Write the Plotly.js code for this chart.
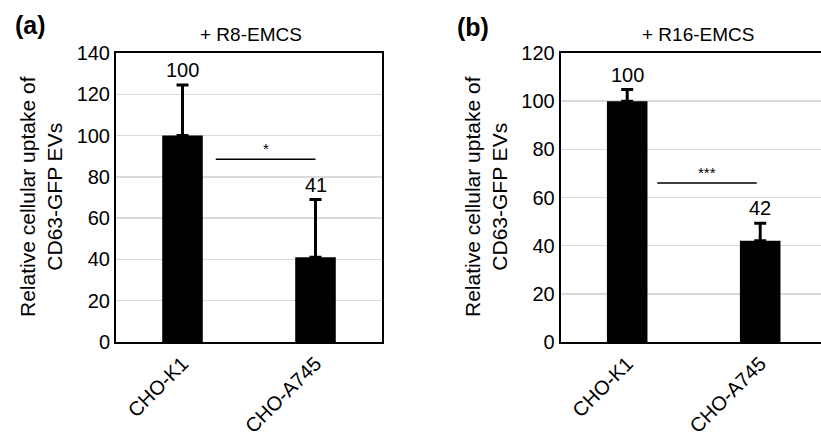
<!DOCTYPE html>
<html>
<head>
<meta charset="utf-8">
<script src="https://cdn.plot.ly/plotly-3.0.1.min.js"></script>
<style>
  html, body { margin: 0; padding: 0; overflow: hidden; background: #fff; }
  #chart { width: 830px; height: 437px; }
</style>
</head>
<body>
<div id="chart"></div>
<script>
// ---- data ----
const categories = ['CHO-K1', 'CHO-A745'];
const r8Values = [100, 41];
const r8Errors = [24.5, 28];
const r16Values = [100, 42];
const r16Errors = [4.8, 7.3];
const r8Ticks = [0, 20, 40, 60, 80, 100, 120, 140];
const r16Ticks = [0, 20, 40, 60, 80, 100, 120];
const panelTitles = ['+ R8-EMCS', '+ R16-EMCS'];
const panelLetters = ['(a)', '(b)'];
const yTitleText = 'Relative cellular uptake of<br>CD63-GFP EVs';
const sigLabels = ['*', '***'];
// significance bracket: [from category pos, to category pos, height]
const r8Bracket = [0.25, 1.0, 88.5];
const r16Bracket = [0.226, 0.974, 66];

const FONT = 'Arial, "Liberation Sans", Helvetica, sans-serif';
const W = 830, H = 437;

function barTrace(vals, errs, xa, ya) {
  return {
    type: 'bar', x: categories, y: vals, xaxis: xa, yaxis: ya,
    width: 0.305,
    marker: { color: '#000', line: { color: '#000', width: 0 } },
    error_y: { type: 'data', symmetric: false, array: errs, arrayminus: errs.map(() => 0),
               color: '#000', thickness: 3, width: 6 },
    hoverinfo: 'skip', showlegend: false
  };
}

const data = [
  barTrace(r8Values, r8Errors, 'x', 'y'),
  barTrace(r16Values, r16Errors, 'x2', 'y2')
];

const commonX = {
  type: 'category', range: [-0.5, 1.5], showline: true, mirror: true,
  linecolor: '#000', linewidth: 2, showgrid: false, ticks: '', tickangle: -45,
  tickfont: { family: FONT, size: 20, color: '#000' }, automargin: false, fixedrange: true
};
const commonY = {
  showline: true, mirror: true, linecolor: '#000', linewidth: 2, showgrid: true,
  gridcolor: '#dadada', gridwidth: 1.5, ticks: '', zeroline: false,
  tickfont: { family: FONT, size: 20, color: '#000' }, automargin: false, fixedrange: true,
  tickmode: 'array'
};
const yDom = [1 - 342 / H, 1 - 53 / H];

const annotations = [];
function ann(o) { annotations.push(Object.assign({ xanchor: 'center', yanchor: 'middle', showarrow: false }, o)); }

// panel letters
ann({ text: panelLetters[0], xref: 'paper', yref: 'paper', x: 30 / W, y: 1 - 25 / H,
      font: { family: FONT, size: 25, color: '#000', weight: 'bold' } });
ann({ text: panelLetters[1], xref: 'paper', yref: 'paper', x: 473 / W, y: 1 - 27 / H,
      font: { family: FONT, size: 25, color: '#000', weight: 'bold' } });
// titles
ann({ text: panelTitles[0], xref: 'paper', yref: 'paper', x: 251 / W, y: 1 - 34.5 / H,
      font: { family: FONT, size: 19, color: '#000' } });
ann({ text: panelTitles[1], xref: 'paper', yref: 'paper', x: 698 / W, y: 1 - 35 / H,
      font: { family: FONT, size: 19, color: '#000' } });
// y titles
ann({ text: yTitleText, xref: 'paper', yref: 'paper', x: 41 / W, y: 1 - 197 / H, textangle: -90,
      font: { family: FONT, size: 21, color: '#000' } });
ann({ text: yTitleText, xref: 'paper', yref: 'paper', x: 486 / W, y: 1 - 197 / H, textangle: -90,
      font: { family: FONT, size: 21, color: '#000' } });

// value labels
function valueLabels(vals, errs, xr, yr) {
  vals.forEach((v, i) => ann({ text: String(v), x: categories[i], y: v + errs[i], xref: xr, yref: yr,
    yshift: 15, font: { family: FONT, size: 20, color: '#000' } }));
}
valueLabels(r8Values, r8Errors, 'x', 'y');
valueLabels(r16Values, r16Errors, 'x2', 'y2');

// significance stars
ann({ text: sigLabels[0], x: (r8Bracket[0] + r8Bracket[1]) / 2, y: r8Bracket[2], xref: 'x', yref: 'y',
      yanchor: 'bottom', yshift: 0, font: { family: FONT, size: 15, color: '#000' } });
ann({ text: sigLabels[1], x: (r16Bracket[0] + r16Bracket[1]) / 2, y: r16Bracket[2], xref: 'x2', yref: 'y2',
      yanchor: 'bottom', yshift: 0, font: { family: FONT, size: 15, color: '#000' } });

const shapes = [
  { type: 'line', xref: 'x', yref: 'y', x0: r8Bracket[0], x1: r8Bracket[1], y0: r8Bracket[2], y1: r8Bracket[2],
    line: { color: '#000', width: 1.5 } },
  { type: 'line', xref: 'x2', yref: 'y2', x0: r16Bracket[0], x1: r16Bracket[1], y0: r16Bracket[2], y1: r16Bracket[2],
    line: { color: '#000', width: 1.5 } }
];

const layout = {
  width: W, height: H,
  margin: { l: 0, r: 0, t: 0, b: 0, pad: 0 },
  paper_bgcolor: '#fff', plot_bgcolor: '#fff',
  showlegend: false,
  xaxis: Object.assign({}, commonX, { domain: [116 / W, 382 / W], anchor: 'y' }),
  yaxis: Object.assign({}, commonY, { domain: yDom, range: [0, 140], tickvals: r8Ticks, ticktext: r8Ticks.map(String), anchor: 'x' }),
  xaxis2: Object.assign({}, commonX, { domain: [560.7 / W, 826.7 / W], anchor: 'y2' }),
  yaxis2: Object.assign({}, commonY, { domain: yDom, range: [0, 120], tickvals: r16Ticks, ticktext: r16Ticks.map(String), anchor: 'x2' }),
  annotations: annotations,
  shapes: shapes
};

Plotly.newPlot('chart', data, layout, { staticPlot: true, displayModeBar: false });
</script>
</body>
</html>
